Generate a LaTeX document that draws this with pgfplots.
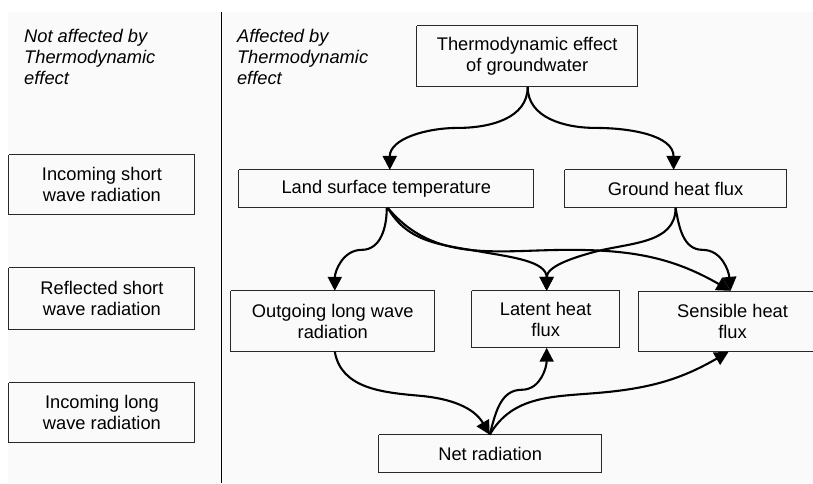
\documentclass[border=0pt]{standalone}
\usepackage{pgfplots}
\pgfplotsset{compat=1.18}
\usepackage{fontspec}
\setmainfont{Liberation Sans}
\usetikzlibrary{arrows.meta}
\definecolor{bggray}{RGB}{250,250,250}
\definecolor{boxline}{RGB}{40,40,40}
\begin{document}
\begin{tikzpicture}[
  arr/.style={line width=2.1pt, black, -{Triangle[length=14pt,width=14pt]}},
  lbl/.style={font=\fontsize{18.3bp}{21bp}\selectfont, align=center, inner sep=0pt, text=black},
  ital/.style={font=\fontsize{18.3bp}{21bp}\selectfont\itshape, align=left, inner sep=0pt, anchor=north west, text=black}
]
\begin{axis}[
  width=813bp, height=483bp, scale only axis,
  xmin=0, xmax=813, ymin=0, ymax=483, y dir=reverse,
  axis lines=none, clip=false,
  box/.style={boxline, line width=1pt, line join=miter, mark=none}
]
% background
\fill[white] (0,0) rectangle (813,483);
\fill[bggray] (8,12) rectangle (813,483);
% divider
\addplot[black, line width=1.2pt, mark=none] coordinates {(221.5,12) (221.5,483)};
% left column boxes
\addplot[box] coordinates {(9,155) (195,155) (195,215) (9,215) (9,155)};
\addplot[box] coordinates {(9,268) (195,268) (195,330) (9,330) (9,268)};
\addplot[box] coordinates {(9,383) (195,383) (195,443) (9,443) (9,383)};
% right diagram boxes
\addplot[box] coordinates {(417,26) (638,26) (638,87) (417,87) (417,26)};
\addplot[box] coordinates {(239,170) (534,170) (534,208) (239,208) (239,170)};
\addplot[box] coordinates {(565,170) (787,170) (787,208) (565,208) (565,170)};
\addplot[box] coordinates {(231,291) (435,291) (435,352) (231,352) (231,291)};
\addplot[box] coordinates {(472,291) (620,291) (620,348) (472,348) (472,291)};
\addplot[box] coordinates {(813,291.5) (639,291.5) (639,351.5) (813,351.5)};
\addplot[box] coordinates {(379,435) (602,435) (602,473) (379,473) (379,435)};
% texts
\node[ital] at (24,29) {Not affected by\\Thermodynamic\\effect};
\node[ital] at (237,29) {Affected by\\Thermodynamic\\effect};
\node[lbl] at (102,185) {Incoming short\\wave radiation};
\node[lbl] at (102,299) {Reflected short\\wave radiation};
\node[lbl] at (102,413) {Incoming long\\wave radiation};
\node[lbl] at (527.5,56.5) {Thermodynamic effect\\of groundwater};
\node[lbl] at (386.5,189) {Land surface temperature};
\node[lbl] at (676,189) {Ground heat flux};
\node[lbl] at (333,321.5) {Outgoing long wave\\radiation};
\node[lbl] at (546,319.5) {Latent heat\\flux};
\node[lbl] at (733,321.5) {Sensible heat\\flux};
\node[lbl] at (490.5,454) {Net radiation};
% arrows
\draw[arr] (528,87) to[out=-90,in=0] (458,128) to[out=180,in=90] (390,170);
\draw[arr] (528,87) to[out=-90,in=180] (596,128) to[out=0,in=90] (674,170);
\draw[arr] (387,208) to[out=-90,in=0] (362,250) to[out=180,in=90] (335,291);
\draw[arr] (388,208) to[out=-60,in=170] (482,252) to[out=-10,in=90] (547,291);
\draw[arr] (388,208) to[out=-50,in=180] (570,250) to[out=0,in=150] (731,291);
\draw[arr] (676,208) to[out=-90,in=15] (595,252) to[out=195,in=90] (547,291);
\draw[arr] (676,208) to[out=-80,in=180] (703,250) to[out=0,in=95] (731,291);
\draw[arr] (335,352) to[out=-80,in=175] (420,396) to[out=-5,in=120] (490,435);
\draw[arr] (490,435) to[out=75,in=180] (522,390) to[out=0,in=-90] (547,348);
\draw[arr] (490,435) to[out=60,in=185] (600,393) to[out=5,in=210] (729,352);
\end{axis}
\end{tikzpicture}
\end{document}
